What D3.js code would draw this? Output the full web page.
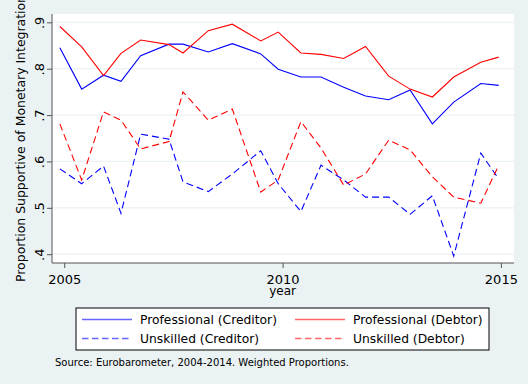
<!DOCTYPE html>
<html>
<head>
<meta charset="utf-8">
<script src="https://cdn.jsdelivr.net/npm/d3@7"></script>
<style>
    body { margin: 0; background: #eaf2f3; }
    svg { display: block; font-family: "DejaVu Sans", sans-serif; }
</style>
</head>
<body>
<div id="chart"></div>
<script>

// survey waves (fractional year)
const years = [2004.9, 2005.4, 2005.9, 2006.3, 2006.75, 2007.4, 2007.72, 2008.3, 2008.85, 2009.5, 2009.9,
    2010.42, 2010.88, 2011.4, 2011.9, 2012.43, 2012.92, 2013.43, 2013.92, 2014.54, 2014.95]

const profCreditor = [.845, .756, .786, .773, .828, .853, .853, .836, .854, .832, .799,
    .782, .782, .760, .741, .733, .754, .681, .728, .768, .764]
const profDebtor = [.891, .847, .785, .833, .862, .852, .834, .882, .896, .860, .879,
    .834, .831, .822, .848, .784, .756, .739, .782, .814, .825]
const unskCreditor = [.584, .552, .590, .488, .659, .648, .556, .535, .573, .623, .552,
    .492, .592, .560, .523, .523, .486, .526, .396, .618, .562]
const unskDebtor = [.681, .560, .707, .689, .627, .643, .750, .689, .713, .534, .560,
    .686, .629, .549, .573, .646, .625, .567, .523, .510, .592]

const seriesNames = ["Professional (Creditor)", "Professional (Debtor)", "Unskilled (Creditor)", "Unskilled (Debtor)"]
const yTicks = [.4, .5, .6, .7, .8, .9]
const xTicks = [2005, 2010, 2015]

class LineChart {

    constructor(parent, width, height) {
        this.parent = parent
        this.width = width
        this.height = height

        this.blue = "rgb(0,0,255)"
        this.red = "rgb(255,0,0)"
        this.bg = "#eaf2f3"
        this.plot = {left: 52, right: 514, top: 14, bottom: 263}
    }

    init() {
        this.svg = d3.select(this.parent).append("svg")
            .attr("width", this.width)
            .attr("height", this.height)

        this.svg.append("rect")
            .attr("width", this.width)
            .attr("height", this.height)
            .attr("fill", this.bg)

        this.x = d3.scaleLinear().domain([2004.72, 2015.3]).range([this.plot.left, this.plot.right])
        this.y = d3.scaleLinear().domain([0.381, 0.918]).range([this.plot.bottom, this.plot.top])

        this.series = [
            {name: seriesNames[0], values: profCreditor, color: this.blue, dash: null},
            {name: seriesNames[1], values: profDebtor, color: this.red, dash: null},
            {name: seriesNames[2], values: unskCreditor, color: this.blue, dash: "7,4"},
            {name: seriesNames[3], values: unskDebtor, color: this.red, dash: "7,4"}
        ]

        this.drawPlotArea()
        this.drawLines()
        this.drawAxes()
        this.drawLegend()
    }

    drawPlotArea() {
        const p = this.plot
        this.svg.append("rect")
            .attr("x", p.left)
            .attr("y", p.top)
            .attr("width", p.right - p.left)
            .attr("height", p.bottom - p.top)
            .attr("fill", "white")

        this.svg.append("g")
            .selectAll("line")
            .data(yTicks)
            .join("line")
                .attr("x1", p.left)
                .attr("x2", p.right)
                .attr("y1", d => this.y(d))
                .attr("y2", d => this.y(d))
                .attr("stroke", this.bg)
                .attr("stroke-width", 1.2)
    }

    drawLines() {
        const line = d3.line()
            .x((d, i) => this.x(years[i]))
            .y(d => this.y(d))

        this.svg.append("g")
            .selectAll("path")
            .data(this.series)
            .join("path")
                .attr("d", d => line(d.values))
                .attr("fill", "none")
                .attr("stroke", d => d.color)
                .attr("stroke-width", 1.1)
                .attr("stroke-dasharray", d => d.dash)
    }

    drawAxes() {
        const p = this.plot

        const yAxis = this.svg.append("g")
            .attr("transform", `translate(${p.left},0)`)
            .call(d3.axisLeft(this.y).tickValues(yTicks).tickSize(5).tickFormat(d => d3.format(".1f")(d).replace(/^0/, "")))
        yAxis.select(".domain").attr("d", `M0,${p.top}V${p.bottom}`)
        yAxis.selectAll("text")
            .attr("x", null).attr("dy", null)
            .attr("transform", "translate(-8,0) rotate(-90)")
            .attr("text-anchor", "middle")
            .attr("font-size", 13)
            .attr("font-family", "DejaVu Sans")
            .attr("fill", "black")

        const xAxis = this.svg.append("g")
            .attr("transform", `translate(0,${p.bottom})`)
            .call(d3.axisBottom(this.x).tickValues(xTicks).tickSize(5).tickFormat(d3.format("d")))
        xAxis.select(".domain").attr("d", `M${p.left},0H${p.right}`)
        xAxis.selectAll("text")
            .attr("dy", null)
            .attr("y", 20.5)
            .attr("font-size", 13)
            .attr("font-family", "DejaVu Sans")
            .attr("fill", "black")

        this.svg.selectAll(".domain, .tick line").attr("stroke", "#555")

        this.svg.append("text")
            .attr("x", this.x(2010))
            .attr("y", 295)
            .attr("text-anchor", "middle")
            .attr("font-size", 12)
            .text("year")

        // axis title runs past the top edge in the original too
        this.svg.append("text")
            .attr("transform", `translate(25,${(p.top + p.bottom) / 2}) rotate(-90)`)
            .attr("text-anchor", "middle")
            .attr("font-size", 13)
            .attr("textLength", 287)
            .attr("lengthAdjust", "spacingAndGlyphs")
            .text("Proportion Supportive of Monetary Integration")
    }

    drawLegend() {
        const lg = this.svg.append("g").attr("transform", "translate(76,308)")
        lg.append("rect")
            .attr("width", 413)
            .attr("height", 42)
            .attr("fill", "white")
            .attr("stroke", "black")
            .attr("stroke-width", 1)

        const items = lg.selectAll("g.item")
            .data(this.series)
            .join("g")
                .attr("class", "item")
                .attr("transform", (d, i) => `translate(${6 + (i % 2) * 213},${11.5 + Math.floor(i / 2) * 19})`)

        items.append("line")
            .attr("x1", 0)
            .attr("x2", 50)
            .attr("stroke", d => d.color)
            .attr("stroke-opacity", 0.6)
            .attr("stroke-width", 1.6)
            .attr("stroke-dasharray", d => d.dash ? "6.5,3.5" : null)

        items.append("text")
            .attr("x", 58)
            .attr("y", 4.5)
            .attr("font-size", 12.3)
            .text(d => d.name)

        this.svg.append("text")
            .attr("x", 55)
            .attr("y", 366)
            .attr("font-size", 10)
            .text("Source: Eurobarometer, 2004-2014. Weighted Proportions.")
    }
}

const chart = new LineChart("#chart", 528, 384)
chart.init()

</script>
</body>
</html>
